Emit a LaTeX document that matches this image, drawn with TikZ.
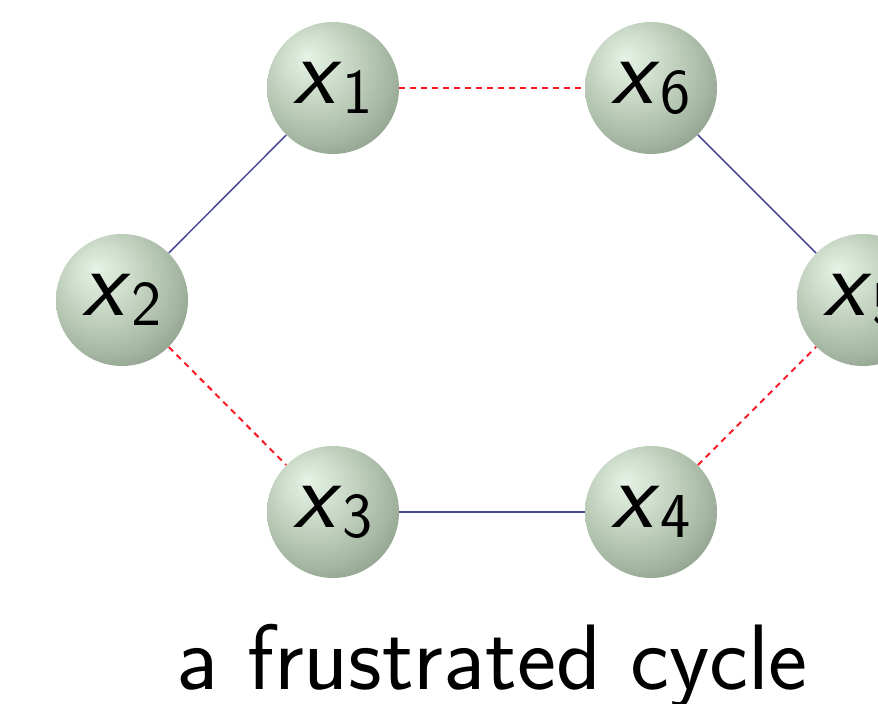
\documentclass[tikz,border=0pt]{standalone}
\usepackage{fontspec}
\usepackage{xcolor}
\definecolor{cTie}{RGB}{75,75,155}
\definecolor{cClash}{RGB}{250,25,35}
\usetikzlibrary{positioning}
\pgfdeclareradialshading{varball}{\pgfpoint{-10bp}{12bp}}{%
  rgb(0bp)=(0.90,0.95,0.90);
  rgb(12bp)=(0.80,0.86,0.79);
  rgb(28bp)=(0.64,0.71,0.63);
  rgb(44bp)=(0.43,0.50,0.42);
  rgb(62bp)=(0.28,0.33,0.27)}
\tikzset{
  node-var/.style={circle,minimum size=66pt,inner sep=0pt,
    shading=varball,font=\sffamily},
  edge-tie/.style={draw=cTie,line width=0.75pt},
  edge-clash/.style={draw=cClash,line width=1pt,dash pattern=on 3pt off 2.5pt},
}
\newcommand{\varx}[1]{{\fontsize{48}{48}\selectfont\textit{x}}\raisebox{-5pt}{\fontsize{32}{32}\selectfont #1}}

\begin{document}
\begin{tikzpicture}[x=0.5pt,y=-0.5pt]
  \useasboundingbox (0,0) rectangle (878,704);
  % the six spins
  \node[node-var] (x1) at (333,88) {\varx{1}};
  \node[node-var] (x6) at (651,88) {\varx{6}};
  \node[node-var] (x2) at (122,300) {\varx{2}};
  \node[node-var] (x5) at (863,300) {\varx{5}};
  \node[node-var] (x3) at (333,512) {\varx{3}};
  \node[node-var] (x4) at (651,512) {\varx{4}};
  % couplings
  \draw[edge-tie] (x1) -- (x2);
  \draw[edge-tie] (x3) -- (x4);
  \draw[edge-tie] (x6) -- (x5);
  \draw[edge-clash] (x1) -- (x6);
  \draw[edge-clash] (x2) -- (x3);
  \draw[edge-clash] (x4) -- (x5);
  \node[anchor=base,font=\sffamily\fontsize{46.5}{46.5}\selectfont] (cap) at (492,690) {a frustrated cycle};
\end{tikzpicture}
\end{document}
